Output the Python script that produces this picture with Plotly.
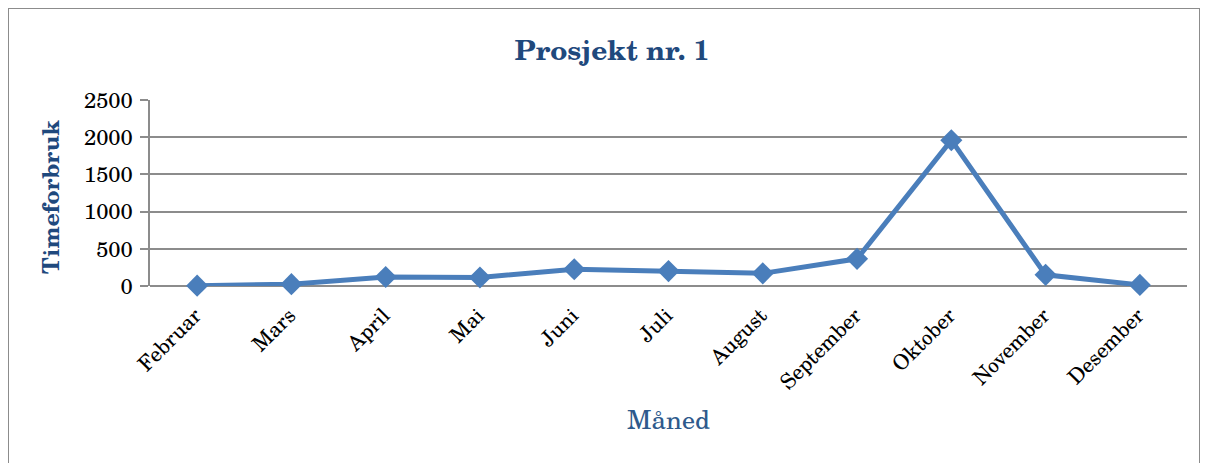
import plotly.graph_objects as go

months = ["Februar", "Mars", "April", "Mai", "Juni", "Juli", "August",
          "September", "Oktober", "November", "Desember"]
hours = [5, 25, 120, 115, 225, 200, 170, 365, 1960, 150, 15]
y_ticks = [0, 500, 1000, 1500, 2000, 2500]

SERIF = "Century Schoolbook, 'TeX Gyre Schola', 'DejaVu Serif', serif"
# page body has an 8px margin, so the figure is drawn 8px smaller / shifted
OFF = 8
W, H = 1208 - OFF, 463 - OFF
L, R, T, B = 150 - OFF, 1187 - OFF, 100 - OFF, 286 - OFF

fig = go.Figure()
fig.add_trace(go.Scatter(
    x=months, y=hours, mode="lines+markers",
    line=dict(color="#4A7EBB", width=5),
    marker=dict(symbol="diamond", size=17, color="#4A7EBB"),
    showlegend=False, cliponaxis=False,
))

def px_x(p):
    return (p - OFF - L) / (R - L)

def px_y(p):
    return (B - (p - OFF)) / (B - T)

fig.update_layout(
    width=W, height=H,
    margin=dict(l=L, r=W - R, t=T, b=H - B),
    paper_bgcolor="white", plot_bgcolor="white",
    font=dict(family=SERIF, size=15, color="black"),
    title=dict(text="<b>Prosjekt nr. 1</b>", x=(612 - OFF) / W, xref="container",
               y=1 - (50 - OFF) / H, yref="container", xanchor="center", yanchor="middle",
               font=dict(family=SERIF, size=28, color="#1F497D")),
    xaxis=dict(
        type="category", range=[-0.5, len(months) - 0.5],
        tickangle=-45, showgrid=False, ticks="", showline=False,
        ticklabelstandoff=12, ticklabelshift=-2,
        tickfont=dict(family=SERIF, size=21, color="black"), zeroline=False,
    ),
    yaxis=dict(
        range=[0, 2500], tickvals=y_ticks, showgrid=True, gridcolor="#8C8C8C",
        gridwidth=1.5, zeroline=True, zerolinecolor="#8C8C8C", zerolinewidth=1.5,
        showline=True, linecolor="#8C8C8C", linewidth=1.5,
        ticks="outside", ticklen=8, tickcolor="#8C8C8C", tickwidth=1.5,
        ticklabelstandoff=3,
        tickfont=dict(family=SERIF, size=22, color="black"),
    ),
    annotations=[
        dict(text="<b>Timeforbruk</b>", xref="paper", yref="paper",
             x=px_x(50), y=px_y(197), textangle=-90, showarrow=False,
             xanchor="center", yanchor="middle",
             font=dict(family=SERIF, size=23, color="#1F497D")),
        dict(text="Måned", xref="paper", yref="paper",
             x=px_x(668), y=px_y(418), showarrow=False,
             xanchor="center", yanchor="middle",
             font=dict(family=SERIF, size=26, color="#2E5A8C")),
    ],
    shapes=[
        dict(type="rect", xref="paper", yref="paper",
             x0=px_x(8), x1=px_x(1200), y0=px_y(480), y1=px_y(8),
             line=dict(color="#8C8C8C", width=2), layer="below"),
    ],
)

fig.write_html("out.html")
